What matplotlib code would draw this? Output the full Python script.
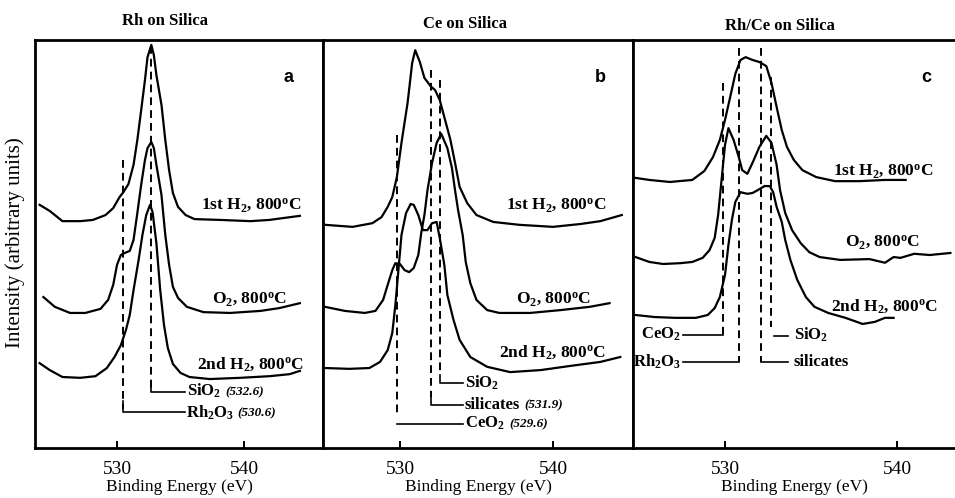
import matplotlib
matplotlib.use("Agg")
import matplotlib.pyplot as plt

plt.rcParams['font.family'] = ['Liberation Serif', 'DejaVu Serif']
plt.rcParams['mathtext.fontset'] = 'custom'
plt.rcParams['mathtext.rm'] = 'Liberation Serif:bold'
plt.rcParams['mathtext.it'] = 'Liberation Serif:italic:bold'
plt.rcParams['mathtext.bf'] = 'Liberation Serif:bold'
plt.rcParams['mathtext.default'] = 'rm'

# O 1s spectra, binding energy (eV) vs intensity (arbitrary, offset stacked)
# panel a: Rh on silica
a_h1_e = [523.9, 524.7, 525.7, 527.1, 528.1, 529.1, 529.7, 530.2, 530.5, 530.9, 531.3, 531.6, 531.9, 532.2, 532.4,
          532.7, 532.9, 533.1, 533.5, 533.8, 534.1, 534.4, 534.8, 535.4, 536.1, 538.1, 540.5, 542.0, 543.2, 544.4]
a_h1_i = [59.6, 58.1, 55.6, 55.6, 55.9, 57.1, 58.8, 61.5, 62.7, 64.7, 69.4, 75.5, 82.8, 90.2, 95.8,
          98.8, 96.3, 91.4, 84.1, 75.5, 68.1, 62.5, 59.1, 57.1, 56.1, 55.9, 55.6, 55.9, 56.4, 56.9]
a_o2_e = [524.2, 525.1, 526.3, 527.5, 528.7, 529.3, 529.7, 530.0, 530.3, 530.6, 531.0, 531.3, 531.6, 531.9, 532.2,
          532.4, 532.7, 532.9, 533.1, 533.5, 533.8, 534.1, 534.4, 534.8, 535.5, 536.8, 538.9, 541.3, 542.8, 544.4]
a_o2_i = [37.0, 34.6, 33.1, 33.1, 34.1, 36.3, 40.0, 44.9, 47.3, 47.8, 48.3, 51.0, 57.6, 64.5, 70.6,
          73.5, 75.0, 73.5, 69.4, 62.0, 52.2, 44.9, 39.5, 36.8, 34.6, 33.3, 33.1, 33.6, 34.3, 35.5]
a_h2_e = [523.9, 524.7, 525.7, 527.1, 528.3, 529.2, 529.8, 530.3, 530.7, 531.0, 531.3, 531.7, 532.0, 532.3, 532.6,
          532.8, 533.1, 533.4, 533.7, 534.0, 534.4, 535.0, 535.7, 537.3, 539.7, 542.0, 543.6, 544.4]
a_h2_i = [20.8, 19.1, 17.4, 17.2, 17.6, 19.6, 22.3, 25.2, 28.9, 32.6, 38.7, 46.1, 52.2, 57.1, 59.6,
          57.8, 50.2, 38.7, 30.1, 24.5, 20.6, 18.4, 17.4, 16.9, 17.2, 17.6, 18.1, 18.9]

# panel b: Ce on silica
b_h1_e = [525.1, 526.9, 528.2, 528.8, 529.2, 529.5, 529.8, 530.1, 530.5, 530.8, 531.0, 531.3, 531.6, 532.0, 532.3,
          532.6, 532.9, 533.3, 533.6, 533.9, 534.4, 535.0, 536.1, 537.8, 540.0, 541.8, 543.1, 544.5]
b_h1_i = [54.7, 54.2, 55.1, 56.6, 59.1, 61.5, 66.4, 74.8, 84.6, 94.4, 97.5, 94.6, 90.7, 88.7, 87.7,
          85.3, 81.1, 75.5, 69.9, 64.0, 60.0, 57.1, 55.4, 54.7, 54.2, 54.9, 55.6, 57.1]
b_o2_e = [525.1, 526.4, 527.7, 528.4, 528.9, 529.2, 529.5, 529.7, 530.0, 530.3, 530.6, 530.9, 531.2, 531.4, 531.6,
          531.8, 532.1, 532.4, 532.7, 533.1, 533.4, 533.6, 533.8, 534.1, 534.3, 534.6, 535.0, 535.7, 536.5, 538.5,
          540.5, 542.4, 543.7]
b_o2_i = [34.6, 33.6, 33.1, 33.6, 36.3, 40.0, 43.6, 45.3, 45.1, 43.6, 43.1, 44.1, 47.3, 52.9, 57.1,
          63.2, 69.9, 74.8, 77.0, 73.5, 68.6, 63.2, 58.3, 52.2, 45.6, 40.4, 36.3, 33.8, 33.1, 33.1,
          33.8, 34.6, 35.5]
b_h2_e = [525.1, 526.7, 528.0, 528.7, 529.2, 529.5, 529.7, 529.9, 530.1, 530.4, 530.7, 530.9, 531.2, 531.5, 531.8,
          532.1, 532.4, 532.6, 532.9, 533.1, 533.5, 533.9, 534.6, 535.7, 537.2, 539.2, 541.1, 543.1, 544.4]
b_h2_i = [19.6, 19.4, 19.6, 21.1, 24.0, 28.2, 35.0, 43.6, 52.2, 57.6, 59.8, 59.6, 57.1, 53.4, 53.4,
          55.1, 55.4, 51.5, 44.9, 37.5, 31.4, 26.5, 22.3, 19.9, 18.6, 19.1, 20.1, 21.1, 22.3]

# panel c: Rh/Ce on silica
c_h1_e = [524.8, 525.6, 526.8, 528.1, 528.8, 529.3, 529.7, 530.0, 530.3, 530.6, 530.9, 531.2, 531.6, 532.0, 532.4,
          532.7, 533.0, 533.3, 533.6, 534.0, 534.5, 535.3, 536.4, 537.8, 539.3, 540.5]
c_h1_i = [66.2, 65.7, 65.2, 65.7, 67.9, 71.3, 75.5, 80.4, 86.0, 91.7, 95.1, 95.8, 95.1, 94.6, 93.6,
          89.5, 83.6, 77.9, 73.8, 70.6, 68.1, 66.4, 65.4, 65.4, 65.7, 65.7]
c_o2_e = [524.8, 525.6, 526.4, 527.4, 528.1, 528.7, 529.1, 529.4, 529.6, 529.8, 530.0, 530.2, 530.5, 530.8, 531.0,
          531.3, 531.6, 532.0, 532.4, 532.7, 533.0, 533.2, 533.5, 533.9, 534.4, 534.9, 535.5, 536.7, 538.4, 539.3,
          539.8, 540.2, 541.0, 541.9, 543.1]
c_o2_i = [46.8, 45.6, 45.1, 45.3, 45.6, 46.6, 48.5, 51.5, 57.1, 65.7, 74.3, 78.4, 75.5, 71.3, 68.1,
          67.2, 69.9, 73.8, 76.5, 74.8, 69.4, 63.2, 57.6, 53.4, 50.2, 48.0, 46.8, 46.1, 46.3, 45.4,
          46.8, 46.6, 47.6, 47.3, 47.8]
c_h2_e = [524.8, 525.9, 527.1, 528.3, 529.0, 529.4, 529.7, 530.0, 530.2, 530.4, 530.6, 530.9, 531.3, 531.6, 531.9,
          532.3, 532.6, 532.8, 533.0, 533.3, 533.5, 533.8, 534.2, 534.7, 535.2, 536.0, 537.0, 538.0, 538.7, 539.3,
          539.8]
c_h2_i = [32.6, 32.1, 31.9, 31.9, 32.6, 34.3, 37.0, 42.4, 49.8, 55.9, 60.3, 62.7, 62.3, 62.5, 63.2,
          64.2, 64.2, 62.7, 59.1, 55.4, 51.0, 46.1, 41.2, 37.0, 34.6, 33.1, 31.9, 30.4, 30.9, 31.9,
          31.9]

treatments = ["1st H$_2$, 800$^o$C", "O$_2$, 800$^o$C", "2nd H$_2$, 800$^o$C"]
titles = ["Rh on Silica", "Ce on Silica", "Rh/Ce on Silica"]
letters = ["a", "b", "c"]

# reference binding energies marked by dashed lines
a_ref_e = [530.5, 532.7]          # Rh2O3, SiO2
b_ref_e = [529.8, 532.0, 532.6]   # CeO2, silicates, SiO2
c_ref_e = [529.9, 530.8, 532.1, 532.7]  # CeO2, Rh2O3, silicates, SiO2

dash = (0, (4, 2.6))
lab_kw = dict(fontsize=12.5, weight='bold', ha='right', va='center')
ref_kw = dict(fontsize=12, weight='bold', va='center')
num_kw = dict(fontsize=9.5, style='italic', weight='bold', va='center')


def curves(ax, e_list, i_list):
    for e, i in zip(e_list, i_list):
        ax.plot(e, i, color='black', lw=1.6, solid_joinstyle='round')


def vdash(ax, e, top, bot):
    ax.plot([e, e], [top, bot], color='black', lw=1.4, ls=dash)


def hconn(ax, x0, x1, y):
    ax.plot([x0, x1], [y, y], color='black', lw=1.2)


def ref_label(ax, x, y, name, num=None, ha='left'):
    t = ax.text(x, y, name, ha=ha, **ref_kw)
    if num:
        ax.annotate(num, xy=(1, 0.45), xycoords=t, xytext=(3, 0), textcoords='offset points',
                    ha='left', **num_kw)


fig = plt.figure(figsize=(9.55, 4.98), dpi=100)
bot, hgt = 0.1004, 0.8193
ax_a = fig.add_axes([0.03665, bot, 0.30157, hgt])
ax_b = fig.add_axes([0.3382, bot, 0.3246, hgt])
ax_c = fig.add_axes([0.6628, bot, 0.3372, hgt])
axes = [ax_a, ax_b, ax_c]
xlims = [(523.54, 546.22), (524.97, 545.23), (524.65, 543.37)]

for ax, xl in zip(axes, xlims):
    ax.set_xlim(*xl)
    ax.set_ylim(0, 100)
    ax.set_yticks([])
    ax.set_xticks([530, 540])
    ax.tick_params(axis='x', direction='in', length=5, width=1.4, labelsize=14, pad=9)
    for s in ax.spines.values():
        s.set_linewidth(2.0)
    ax.set_xlabel("Binding Energy (eV)", fontsize=12.5, labelpad=1)
ax_c.spines['right'].set_visible(False)

# panel a
curves(ax_a, [a_h1_e, a_o2_e, a_h2_e], [a_h1_i, a_o2_i, a_h2_i])
vdash(ax_a, a_ref_e[0], 70.6, 9.5)
vdash(ax_a, a_ref_e[1], 98.5, 14.5)
ax_a.plot([a_ref_e[0], a_ref_e[0], 535.35], [11.5, 8.8, 8.8], color='black', lw=1.2)
ax_a.plot([a_ref_e[1], a_ref_e[1], 535.35], [16, 13.7, 13.7], color='black', lw=1.2)
ref_label(ax_a, 535.5, 13.9, "SiO$_2$", "(532.6)")
ref_label(ax_a, 535.4, 8.7, "Rh$_2$O$_3$", "(530.6)")
ax_a.text(544.5, 59.6, treatments[0], **lab_kw)
ax_a.text(543.4, 36.6, treatments[1], **lab_kw)
ax_a.text(544.7, 20.6, treatments[2], **lab_kw)

# panel b
curves(ax_b, [b_h1_e, b_o2_e, b_h2_e], [b_h1_i, b_o2_i, b_h2_i])
vdash(ax_b, b_ref_e[0], 76.7, 8)
vdash(ax_b, b_ref_e[1], 92.6, 12.5)
vdash(ax_b, b_ref_e[2], 90.2, 18)
hconn(ax_b, b_ref_e[0], 534.1, 5.9)
ax_b.plot([b_ref_e[1], b_ref_e[1], 534.1], [12.5, 10.5, 10.5], color='black', lw=1.2)
ax_b.plot([b_ref_e[2], b_ref_e[2], 534.1], [18, 15.9, 15.9], color='black', lw=1.2)
ref_label(ax_b, 534.25, 16.1, "SiO$_2$")
ref_label(ax_b, 534.25, 10.6, "silicates", "(531.9)")
ref_label(ax_b, 534.25, 6.0, "CeO$_2$", "(529.6)")
ax_b.text(543.5, 59.6, treatments[0], **lab_kw)
ax_b.text(542.5, 36.6, treatments[1], **lab_kw)
ax_b.text(543.5, 23.6, treatments[2], **lab_kw)

# panel c
curves(ax_c, [c_h1_e, c_o2_e, c_h2_e], [c_h1_i, c_o2_i, c_h2_i])
vdash(ax_c, c_ref_e[0], 89.5, 27.7)
vdash(ax_c, c_ref_e[1], 98.0, 21.1)
vdash(ax_c, c_ref_e[2], 98.0, 21.1)
vdash(ax_c, c_ref_e[3], 90.9, 29.7)
hconn(ax_c, c_ref_e[0], 527.56, 27.7)
hconn(ax_c, c_ref_e[1], 527.56, 21.1)
hconn(ax_c, c_ref_e[2], 533.66, 21.1)
hconn(ax_c, 532.85, 533.66, 27.5)
ref_label(ax_c, 527.45, 27.9, "CeO$_2$", ha='right')
ref_label(ax_c, 527.45, 21.2, "Rh$_2$O$_3$", ha='right')
ref_label(ax_c, 534.0, 27.7, "SiO$_2$")
ref_label(ax_c, 534.0, 21.2, "silicates")
ax_c.text(542.1, 67.8, treatments[0], **lab_kw)
ax_c.text(541.3, 50.5, treatments[1], **lab_kw)
ax_c.text(542.4, 34.8, treatments[2], **lab_kw)

# panel letters
letter_x = [543.5, 543.1, 541.7]
for ax, l, lx in zip(axes, letters, letter_x):
    ax.text(lx, 90.7, l, fontsize=13, weight='bold', family='Liberation Sans', ha='center', va='center')

# titles above panels
fig.text(165 / 955, 1 - 21 / 498, titles[0], fontsize=12, weight='bold', ha='center', va='center')
fig.text(465 / 955, 1 - 24 / 498, titles[1], fontsize=12, weight='bold', ha='center', va='center')
fig.text(780 / 955, 1 - 26 / 498, titles[2], fontsize=12, weight='bold', ha='center', va='center')

fig.text(15 / 955, 1 - 243 / 498, "Intensity (arbitrary units)", rotation=90, fontsize=15,
         ha='center', va='center')

fig.savefig("out.png", dpi=100)
